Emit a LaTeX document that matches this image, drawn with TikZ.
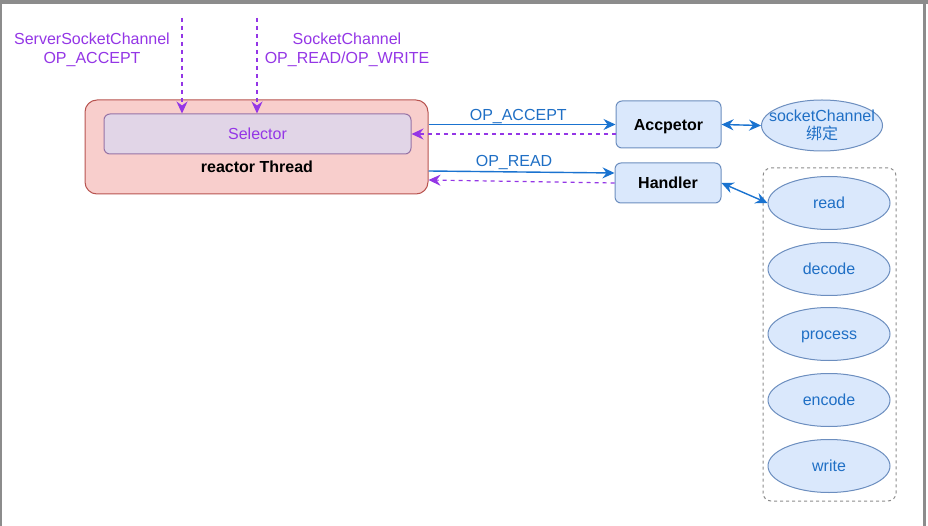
\documentclass[tikz,border=0pt]{standalone}
\usepackage{fontspec}
\setmainfont{Liberation Sans}
\newfontfamily\cjk{Noto Sans CJK SC}
\usetikzlibrary{arrows.meta,shapes.geometric,calc}
\definecolor{rfill}{HTML}{F8CECC}
\definecolor{rline}{HTML}{B85450}
\definecolor{sfill}{HTML}{E1D5E7}
\definecolor{sline}{HTML}{9673A6}
\definecolor{bfill}{HTML}{DAE8FC}
\definecolor{bline}{HTML}{6C8EBF}
\definecolor{btext}{HTML}{1F6FC5}
\definecolor{barrow}{HTML}{1A73D0}
\definecolor{purp}{HTML}{9436E6}
\definecolor{frame}{HTML}{8C8C8C}
\tikzset{
  txt/.style={font=\fontsize{16}{19}\selectfont, inner sep=0pt, align=center},
  bluebox/.style={draw=bline, fill=bfill, rounded corners=6pt, line width=1pt, inner sep=0pt, text height=13pt, text depth=1.5pt, font=\fontsize{16}{19}\selectfont\bfseries},
  oval/.style={ellipse, draw=bline, fill=bfill, line width=1pt, inner sep=0pt, minimum width=122pt, minimum height=53pt, text=btext, text height=13pt, text depth=1.5pt, font=\fontsize{16}{19}\selectfont},
  bluearrow/.style={draw=barrow, line width=1.4pt, -{Stealth[length=12pt,width=11pt,inset=4pt]}},
  bluedbl/.style={draw=barrow, line width=1.4pt, {Stealth[length=12pt,width=11pt,inset=4pt]}-{Stealth[length=12pt,width=11pt,inset=4pt]}},
  purpdash/.style={draw=purp, line width=1.2pt, dash pattern=on 4pt off 4pt, -{Stealth[length=12pt,width=11pt,inset=4pt]}},
  bluelabel/.style={text=btext, font=\fontsize{16}{19}\selectfont, inner sep=0pt},
}
\begin{document}
\begin{tikzpicture}[x=1pt,y=-1pt]
\useasboundingbox (0,0) rectangle (928,526);
\fill[white] (0,0) rectangle (928,526);
% screenshot frame
\fill[frame] (0,0) rectangle (928,4);
\fill[frame] (0,0) rectangle (2,526);
\fill[frame] (923,0) rectangle (926,526);

% reactor thread
\node[draw=rline, fill=rfill, rounded corners=12pt, line width=1pt, minimum width=343pt, minimum height=94pt, inner sep=0pt] (reactor) at (256.5,147) {};
\node[draw=sline, fill=sfill, rounded corners=6pt, line width=1pt, minimum width=307pt, minimum height=40pt, inner sep=0pt, text height=13pt, text depth=1.5pt, text=purp, font=\fontsize{16}{19}\selectfont] (selector) at (257.5,134) {Selector};
\node[txt, font=\fontsize{16}{19}\selectfont\bfseries] (rt) at (257,167) {reactor Thread};

% top labels
\node[txt, text=purp] (lab1) at (92,49.5) {ServerSocketChannel\\OP\_ACCEPT};
\node[txt, text=purp] (lab2) at (347,49.5) {SocketChannel\\OP\_READ/OP\_WRITE};
\coordinate (s1) at (182,18);
\coordinate (s2) at (257,18);
\draw[purpdash] (s1) -- (s1 |- selector.north);
\draw[purpdash] (s2) -- (s2 |- selector.north);

% right boxes
\node[bluebox, minimum width=105pt, minimum height=47pt] (acc) at (668.5,124.5) {Accpetor};
\node[bluebox, minimum width=106pt, minimum height=40pt] (hand) at (668,183) {Handler};
\node[oval, minimum width=121pt, minimum height=51pt,
      label={[text=btext, font=\fontsize{16}{18}\selectfont, align=center, inner sep=0pt]center:socketChannel\\{\cjk 绑定}}] (sc) at (822,125.5) {};

% group
\node[draw=frame, dashed, rounded corners=8pt, line width=1pt, minimum width=133pt, minimum height=333pt, inner sep=0pt] (grp) at (829.5,334.5) {};
\node[oval] (read) at (829,203) {read};
\node[oval] (decode) at (829,269) {decode};
\node[oval] (process) at (829,334) {process};
\node[oval] (encode) at (829,400) {encode};
\node[oval] (write) at (829,466) {write};

% connectors
\draw[bluearrow] (reactor.east |- acc.west) -- node[bluelabel, above=0pt, pos=0.48] {OP\_ACCEPT} (acc.west);
\draw[purpdash] (acc.west |- selector.east) -- (selector.east);
\draw[bluearrow] ([yshift=-24pt]reactor.east) -- node[bluelabel, above=1.5pt, pos=0.46] {OP\_READ} ([yshift=10pt]hand.west);
\draw[purpdash] (hand.west) -- ([yshift=-33pt]reactor.east);
\draw[bluedbl] (acc.east) -- (sc.west);
\draw[bluedbl] (hand.east) -- (read.west);
\end{tikzpicture}
\end{document}
